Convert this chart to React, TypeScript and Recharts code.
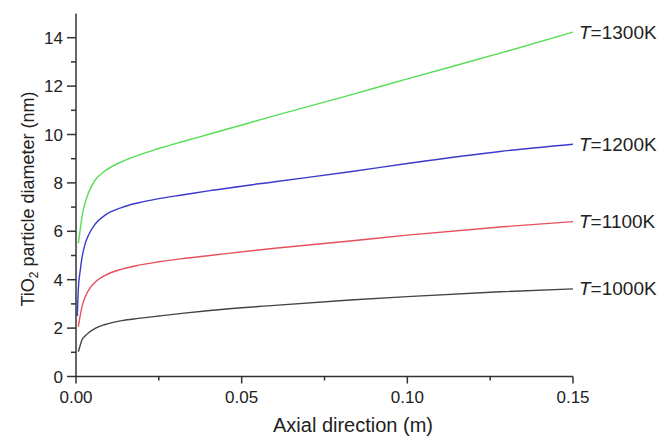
import { LineChart, Line, XAxis, YAxis, Label } from "recharts";

// axial position (m) and particle diameter (nm) for each reactor temperature
const axial = [
  0.0004, 0.0007, 0.0013, 0.0018, 0.0028, 0.0038, 0.0058, 0.0088, 0.0139, 0.0189, 0.025, 0.032,
  0.0404, 0.06, 0.0827, 0.1, 0.128, 0.15,
];
const d1300 = [null, 5.5, 6.1, 6.6, 7.2, 7.6, 8.12, 8.5, 8.88, 9.15, 9.42, 9.7, 10.02, 10.78, 11.63, 12.3, 13.36, 14.23];
const d1200 = [2.5, 3.6, 4.4, 4.9, 5.5, 5.85, 6.3, 6.67, 6.99, 7.18, 7.35, 7.5, 7.68, 8.05, 8.46, 8.8, 9.3, 9.6];
const d1100 = [null, 2.06, 2.55, 2.88, 3.3, 3.57, 3.9, 4.18, 4.44, 4.6, 4.74, 4.87, 5.0, 5.3, 5.6, 5.84, 6.18, 6.4];
const d1000 = [null, 1.02, 1.3, 1.51, 1.68, 1.81, 1.99, 2.15, 2.31, 2.4, 2.5, 2.61, 2.73, 2.94, 3.16, 3.3, 3.5, 3.62];

const xTicks = [0, 0.025, 0.05, 0.075, 0.1, 0.125, 0.15];
const yTicks = [0, 1, 2, 3, 4, 5, 6, 7, 8, 9, 10, 11, 12, 13, 14];

const series = [
  { key: "t1300", temp: "1300K", values: d1300, color: "#55dd55" },
  { key: "t1200", temp: "1200K", values: d1200, color: "#3a3acc" },
  { key: "t1100", temp: "1100K", values: d1100, color: "#e6505c" },
  { key: "t1000", temp: "1000K", values: d1000, color: "#444444" },
];

const data = axial.map((x, i) => {
  const row: Record<string, number | null> = { x };
  series.forEach((s) => (row[s.key] = s.values[i]));
  return row;
});

const AXIS = "#333";
const FONT = "'Liberation Sans', Arial, sans-serif";

const XTick = ({ x, y, payload }: any) => {
  const v = payload.value;
  const major = Math.abs(v / 0.05 - Math.round(v / 0.05)) < 1e-6;
  return (
    <g>
      <line x1={x} x2={x} y1={y} y2={y + (major ? 7 : 4)} stroke={AXIS} strokeWidth={1.5} />
      {major && (
        <text x={x} y={y + 26} textAnchor="middle" fontSize={17} fill="#222" fontFamily={FONT}>
          {v.toFixed(2)}
        </text>
      )}
    </g>
  );
};

const YTick = ({ x, y, payload }: any) => {
  const v = payload.value;
  const major = v % 2 === 0;
  return (
    <g>
      <line x1={x - (major ? 9 : 5)} x2={x} y1={y} y2={y} stroke={AXIS} strokeWidth={1.5} />
      {major && (
        <text x={x - 13} y={y + 6} textAnchor="end" fontSize={17} fill="#222" fontFamily={FONT}>
          {v}
        </text>
      )}
    </g>
  );
};

const endLabel = (temp: string, last: number) => (props: any) => {
  const { x, y, index } = props;
  if (index !== last) return null;
  return (
    <text x={x + 6} y={y + 6.5} fontSize={19} fill="#222" fontFamily={FONT}>
      <tspan fontStyle="italic">T</tspan>={temp}
    </text>
  );
};

export default function App() {
  const last = axial.length - 1;
  return (
    <div style={{ width: 672, height: 439, background: "#fff" }}>
      <style>{"body{margin:0}"}</style>
      <LineChart width={672} height={439} data={data} margin={{ top: 13.5, right: 99, bottom: 0, left: 0 }}>
        <XAxis
          dataKey="x"
          type="number"
          domain={[0, 0.15]}
          ticks={xTicks}
          interval={0}
          height={62.5}
          tickSize={0}
          tickMargin={0}
          tickLine={false}
          tick={<XTick />}
          axisLine={{ stroke: AXIS, strokeWidth: 1.5 }}
        >
          <Label
            content={() => (
              <text x={353} y={432} textAnchor="middle" fontSize={20} fill="#222" fontFamily={FONT}>
                Axial direction (m)
              </text>
            )}
          />
        </XAxis>
        <YAxis
          type="number"
          domain={[0, 15]}
          ticks={yTicks}
          interval={0}
          width={76}
          tickSize={0}
          tickMargin={0}
          tickLine={false}
          tick={<YTick />}
          axisLine={{ stroke: AXIS, strokeWidth: 1.5 }}
        >
          <Label
            content={() => (
              <text
                x={34}
                y={199}
                transform="rotate(-90, 34, 199)"
                textAnchor="middle"
                fontSize={18}
                fill="#222"
                fontFamily={FONT}
              >
                TiO
                <tspan fontSize={12} dy={4}>2</tspan>
                <tspan dy={-4}> particle diameter (nm)</tspan>
              </text>
            )}
          />
        </YAxis>
        {series.map((s) => (
          <Line
            key={s.key}
            dataKey={s.key}
            type="monotone"
            stroke={s.color}
            strokeWidth={1.4}
            dot={false}
            activeDot={false}
            isAnimationActive={false}
            label={endLabel(s.temp, last)}
          />
        ))}
      </LineChart>
    </div>
  );
}
